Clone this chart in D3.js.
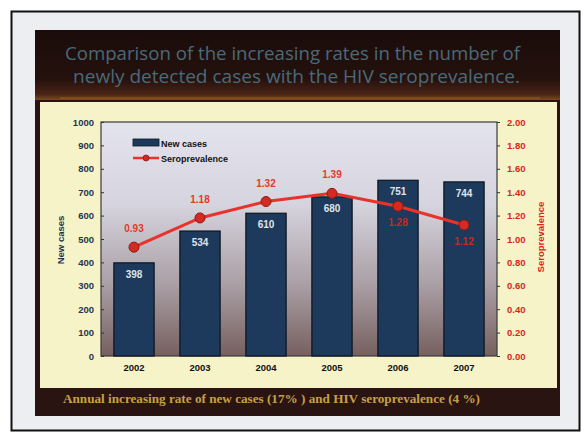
<!DOCTYPE html>
<html>
<head>
<meta charset="utf-8">
<script src="https://cdn.jsdelivr.net/npm/d3@7"></script>
<style>
  html, body { margin: 0; padding: 0; background: #ffffff; }
  svg { display: block; }
</style>
</head>
<body>
<script>
// Chart data
const years = ["2002", "2003", "2004", "2005", "2006", "2007"];
const newCases = [398, 534, 610, 680, 751, 744];
const seroprevalence = [0.93, 1.18, 1.32, 1.39, 1.28, 1.12];
const leftTicks = [0, 100, 200, 300, 400, 500, 600, 700, 800, 900, 1000];
const rightTicks = [0, 0.2, 0.4, 0.6, 0.8, 1.0, 1.2, 1.4, 1.6, 1.8, 2.0];
const titleLines = [
  "Comparison of the increasing rates in the number of",
  "newly detected cases with the HIV seroprevalence."
];
const footnote = "Annual increasing rate of new cases (17% ) and  HIV seroprevalence (4 %)";

const W = 584, H = 434;
const svg = d3.select("body").append("svg").attr("width", W).attr("height", H);
const defs = svg.append("defs");

// Slide frame
svg.append("rect").attr("x", 0).attr("y", 0).attr("width", W).attr("height", H).attr("fill", "#ffffff");
svg.append("rect").attr("x", 11.5).attr("y", 11.5).attr("width", 568).attr("height", 419)
  .attr("fill", "#eceef1").attr("stroke", "#111").attr("stroke-width", 2);

// Dark slide with brown header band
const hdr = defs.append("linearGradient").attr("id", "hdr").attr("x1", 0).attr("y1", 0).attr("x2", 0).attr("y2", 1);
hdr.append("stop").attr("offset", "0%").attr("stop-color", "#1a0c0a");
hdr.append("stop").attr("offset", "70%").attr("stop-color", "#24110d");
hdr.append("stop").attr("offset", "92%").attr("stop-color", "#4a2416");
hdr.append("stop").attr("offset", "100%").attr("stop-color", "#7a4a22");
svg.append("rect").attr("x", 35).attr("y", 30).attr("width", 525).attr("height", 386).attr("fill", "#2a1411");
svg.append("rect").attr("x", 35).attr("y", 30).attr("width", 525).attr("height", 70).attr("fill", "url(#hdr)");
svg.append("line").attr("x1", 60).attr("x2", 540).attr("y1", 98).attr("y2", 98)
  .attr("stroke", "#a0682c").attr("stroke-width", 1.2).attr("opacity", 0.7);

// Title
svg.append("g").selectAll("text").data(titleLines).join("text")
  .attr("x", (d, i) => i === 0 ? 65 : 73).attr("y", (d, i) => 60 + i * 23)
  .attr("textLength", (d, i) => i === 0 ? 455 : 447)
  .attr("lengthAdjust", "spacingAndGlyphs")
  .attr("font-family", "'Open Sans', 'DejaVu Sans', sans-serif")
  .attr("font-size", 18)
  .attr("fill", "#4a6a79")
  .text(d => d);

// Pale yellow chart panel
svg.append("rect").attr("x", 40).attr("y", 102).attr("width", 517).attr("height", 286).attr("fill", "#f6f3c8");

// Footnote
svg.append("text").attr("x", 63).attr("y", 403)
  .attr("textLength", 417).attr("lengthAdjust", "spacingAndGlyphs")
  .attr("font-family", "'Liberation Serif', 'DejaVu Serif', serif")
  .attr("font-weight", "bold").attr("font-size", 12)
  .attr("fill", "#c6a048")
  .text(footnote);

// Plot area
const plot = { left: 101, right: 497, top: 122, bottom: 356 };
const x = d3.scaleBand().domain(years).range([plot.left, plot.right]).paddingInner(0.39).paddingOuter(0.195);
const yL = d3.scaleLinear().domain([0, 1000]).range([plot.bottom, plot.top]);
const yR = d3.scaleLinear().domain([0, 2]).range([plot.bottom, plot.top]);

const bg = defs.append("linearGradient").attr("id", "bg").attr("x1", 0).attr("y1", 0).attr("x2", 0).attr("y2", 1);
bg.append("stop").attr("offset", "0%").attr("stop-color", "#e4e4ee");
bg.append("stop").attr("offset", "35%").attr("stop-color", "#d6d4de");
bg.append("stop").attr("offset", "70%").attr("stop-color", "#a99ea4");
bg.append("stop").attr("offset", "100%").attr("stop-color", "#76605f");
svg.append("rect").attr("x", plot.left).attr("y", plot.top)
  .attr("width", plot.right - plot.left).attr("height", plot.bottom - plot.top)
  .attr("fill", "url(#bg)").attr("stroke", "#3a3a3a").attr("stroke-width", 1.2);

// Bars
svg.append("g").selectAll("rect").data(newCases).join("rect")
  .attr("x", (d, i) => x(years[i]))
  .attr("y", d => yL(d))
  .attr("width", x.bandwidth())
  .attr("height", d => yL(0) - yL(d))
  .attr("fill", "#1d3a5c")
  .attr("stroke", "#0c1520").attr("stroke-width", 1.2);

svg.append("g").selectAll("text").data(newCases).join("text")
  .attr("x", (d, i) => x(years[i]) + x.bandwidth() / 2)
  .attr("y", d => yL(d) + 15)
  .attr("text-anchor", "middle")
  .attr("font-family", "'Liberation Sans', Arial, sans-serif")
  .attr("font-size", 10).attr("font-weight", "bold")
  .attr("fill", "#dfe3ea")
  .text(d => d);

// Left axis
const axL = svg.append("g").attr("transform", `translate(${plot.left},0)`)
  .call(d3.axisLeft(yL).tickValues(leftTicks).tickSize(-3).tickPadding(7).tickFormat(d3.format("d")));
axL.select(".domain").remove();
axL.selectAll("line").attr("stroke", "#333");
axL.selectAll("text").attr("font-family", "'Liberation Sans', Arial, sans-serif")
  .attr("font-size", 9.5).attr("font-weight", "bold").attr("fill", "#1f3550");

// Right axis
const axR = svg.append("g").attr("transform", `translate(${plot.right},0)`)
  .call(d3.axisRight(yR).tickValues(rightTicks).tickSize(3).tickPadding(7).tickFormat(d3.format(".2f")));
axR.select(".domain").remove();
axR.selectAll("line").attr("stroke", "#333");
axR.selectAll("text").attr("font-family", "'Liberation Sans', Arial, sans-serif")
  .attr("font-size", 9.5).attr("font-weight", "bold").attr("fill", "#d8261e");

// X axis labels
const axX = svg.append("g").attr("transform", `translate(0,${plot.bottom})`)
  .call(d3.axisBottom(x).tickSize(0).tickPadding(8));
axX.select(".domain").remove();
axX.selectAll("text").attr("font-family", "'Liberation Sans', Arial, sans-serif")
  .attr("font-size", 9.5).attr("font-weight", "bold").attr("fill", "#111");

// Axis titles
svg.append("text").attr("transform", "translate(64,240) rotate(-90)")
  .attr("text-anchor", "middle")
  .attr("font-family", "'Liberation Sans', Arial, sans-serif")
  .attr("font-size", 9.5).attr("font-weight", "bold").attr("fill", "#1f3550")
  .text("New cases");
svg.append("text").attr("transform", "translate(544,237) rotate(-90)")
  .attr("text-anchor", "middle")
  .attr("font-family", "'Liberation Sans', Arial, sans-serif")
  .attr("font-size", 9.5).attr("font-weight", "bold").attr("fill", "#d8261e")
  .text("Seroprevalence");

// Seroprevalence line
const cx = (d, i) => x(years[i]) + x.bandwidth() / 2;
const line = d3.line().x((d, i) => cx(d, i)).y(d => yR(d));
svg.append("path").datum(seroprevalence)
  .attr("d", line).attr("fill", "none")
  .attr("stroke", "#e8322a").attr("stroke-width", 3);
svg.append("g").selectAll("circle").data(seroprevalence).join("circle")
  .attr("cx", cx).attr("cy", d => yR(d)).attr("r", 5)
  .attr("fill", "#d42a22").attr("stroke", "#8a1a14").attr("stroke-width", 1);
svg.append("g").selectAll("text").data(seroprevalence).join("text")
  .attr("x", cx)
  .attr("y", (d, i) => i < 4 ? yR(d) - 15 : yR(d) + 20)
  .attr("text-anchor", "middle")
  .attr("font-family", "'Liberation Sans', Arial, sans-serif")
  .attr("font-size", 10).attr("font-weight", "bold")
  .attr("fill", (d, i) => i < 4 ? "#e03a2a" : "#c8281e")
  .text(d => d3.format(".2f")(d));

// Legend
const lg = svg.append("g").attr("font-family", "'Liberation Sans', Arial, sans-serif")
  .attr("font-size", 9).attr("font-weight", "bold").attr("fill", "#111");
lg.append("rect").attr("x", 133).attr("y", 139).attr("width", 26).attr("height", 7)
  .attr("fill", "#1d3a5c").attr("stroke", "#0c1520").attr("stroke-width", 0.8);
lg.append("text").attr("x", 161).attr("y", 146.5).text("New cases");
lg.append("line").attr("x1", 133).attr("x2", 159).attr("y1", 158).attr("y2", 158)
  .attr("stroke", "#e8322a").attr("stroke-width", 2.5);
lg.append("circle").attr("cx", 146).attr("cy", 158).attr("r", 3)
  .attr("fill", "#d42a22").attr("stroke", "#8a1a14").attr("stroke-width", 0.8);
lg.append("text").attr("x", 161).attr("y", 161.5).text("Seroprevalence");
</script>
</body>
</html>
